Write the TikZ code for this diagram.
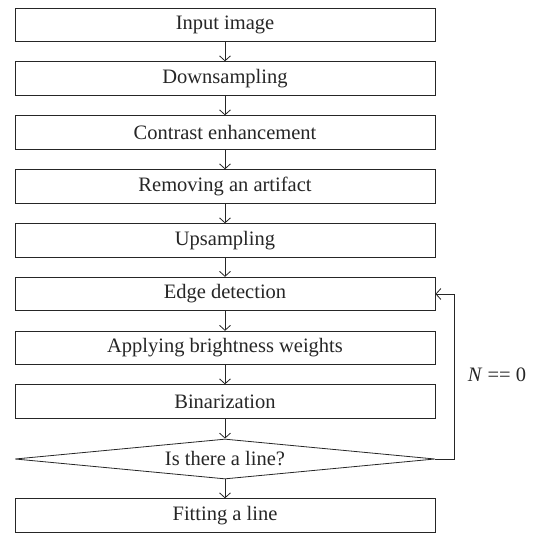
\documentclass[tikz,border=0pt]{standalone}
\usepackage{fontspec}
\setmainfont{Liberation Serif}
\usetikzlibrary{arrows.meta,shapes.geometric}
\begin{document}
\begin{tikzpicture}[x=1pt,y=-1pt,
  every node/.style={font=\fontsize{20.5}{24}\selectfont, text=black!85},
  procbox/.style={draw=black!85, line width=0.8pt, minimum width=420pt, minimum height=33.5pt, inner sep=0pt},
  decbox/.style={draw=black!85, line width=0.8pt, diamond, shape aspect=10.5, minimum width=420pt, minimum height=40pt, inner sep=0pt},
  flow/.style={draw=black!85, line width=0.8pt, -{Straight Barb[length=5pt,width=11pt]}}]
\useasboundingbox (0,0) rectangle (536,533);
\node[procbox] (n1) at (225,24.75) {Input image};
\node[procbox] (n2) at (225,78.5) {Downsampling};
\node[procbox] (n3) at (225,132.5) {Contrast enhancement};
\node[procbox] (n4) at (225,186.5) {Removing an artifact};
\node[procbox] (n5) at (225,240.5) {Upsampling};
\node[procbox] (n6) at (225,294) {Edge detection};
\node[procbox] (n7) at (225,348) {Applying brightness weights};
\node[procbox] (n8) at (225,401.5) {Binarization};
\node[decbox] (d) at (225,459) {Is there a line?};
\node[procbox] (n9) at (225,515.5) {Fitting a line};
\draw[flow] (n1) -- (n2);
\draw[flow] (n2) -- (n3);
\draw[flow] (n3) -- (n4);
\draw[flow] (n4) -- (n5);
\draw[flow] (n5) -- (n6);
\draw[flow] (n6) -- (n7);
\draw[flow] (n7) -- (n8);
\draw[flow] (n8) -- (d);
\draw[flow] (d) -- (n9);
\draw[flow] (d.east) -- ++(19,0) |- (n6.east);
\node (lab) at (497,375) {\textit{N}\hspace{0.25em}==\hspace{0.25em}0};
\end{tikzpicture}
\end{document}
